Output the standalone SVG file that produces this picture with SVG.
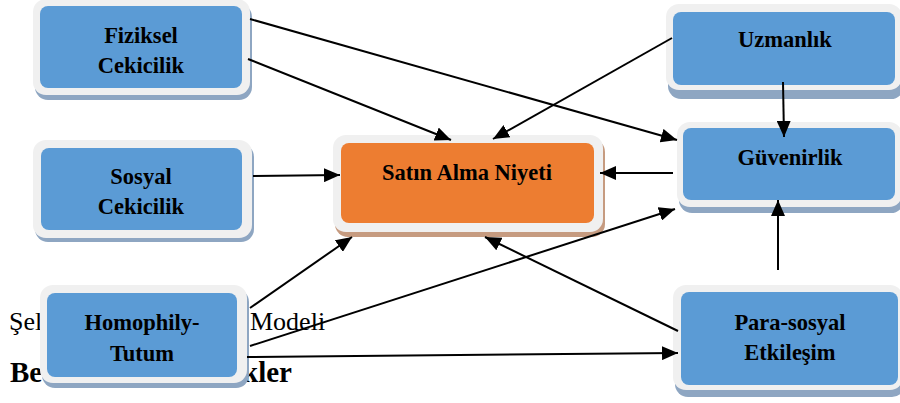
<svg xmlns="http://www.w3.org/2000/svg" width="900" height="403" viewBox="0 0 900 403">
<style>
.bg{font-family:"Liberation Serif","Times New Roman",serif;font-size:26px;fill:#000}
.bgb{font-weight:bold;font-size:29px}
.frame{fill:#F0F0F0}
.shb{fill:#8EA6C2}
.sho{fill:#C69B80}
.blue{fill:#5B9BD5}
.orange{fill:#ED7D31}
.lbl{font-family:"Liberation Serif","Times New Roman",serif;font-size:22.5px;font-weight:bold;fill:#000;text-anchor:middle}
.conn line{stroke:#000;stroke-width:2;fill:none;marker-end:url(#ah)}
</style>
<defs>
<marker id="ah" markerUnits="userSpaceOnUse" markerWidth="17" markerHeight="14" refX="16" refY="7" orient="auto">
<path d="M0,0 L16,7 L0,14 z" fill="#000"/>
</marker>
</defs>
<rect width="900" height="403" fill="#fff"/>
<g id="background-text">
<text class="bg" x="9" y="330">Şel</text>
<text class="bg" x="250" y="330">Modeli</text>
<text class="bg bgb" x="10" y="382">Be</text>
<text class="bg bgb" x="292" y="382" text-anchor="end">kler</text>
</g>
<g id="fiziksel">
<rect class="shb" x="35" y="4" width="217" height="96" rx="13"/>
<rect class="frame" x="33" y="-1" width="217" height="96" rx="13"/>
<rect class="blue" x="40" y="6" width="202" height="82" rx="8"/>
<text class="lbl" x="141" y="43">Fiziksel</text>
<text class="lbl" x="141" y="73">Cekicilik</text>
</g>
<g id="sosyal">
<rect class="shb" x="35" y="144" width="219" height="98" rx="13"/>
<rect class="frame" x="33" y="140" width="219" height="98" rx="13"/>
<rect class="blue" x="41" y="148" width="201" height="82" rx="8"/>
<text class="lbl" x="141" y="184">Sosyal</text>
<text class="lbl" x="141" y="214">Cekicilik</text>
</g>
<g id="homophily">
<rect class="shb" x="42" y="289" width="207" height="99" rx="13"/>
<rect class="frame" x="40" y="285" width="207" height="98" rx="13"/>
<rect class="blue" x="47" y="293" width="190" height="84" rx="8"/>
<text class="lbl" x="142" y="330">Homophily-</text>
<text class="lbl" x="142" y="361">Tutum</text>
</g>
<g id="satin-alma-niyeti">
<rect class="sho" x="335" y="139" width="270" height="98" rx="13"/>
<rect class="frame" x="333" y="135" width="270" height="97" rx="13"/>
<rect class="orange" x="341" y="143" width="253" height="80" rx="8"/>
<text class="lbl" x="467" y="180">Satın Alma Niyeti</text>
</g>
<g id="uzmanlik">
<rect class="shb" x="668" y="9" width="236" height="90" rx="13"/>
<rect class="frame" x="666" y="4" width="236" height="86" rx="13"/>
<rect class="blue" x="673" y="12" width="222" height="73" rx="8"/>
<text class="lbl" x="785" y="47">Uzmanlık</text>
</g>
<g id="guvenirlik">
<rect class="shb" x="679" y="127" width="225" height="86" rx="13"/>
<rect class="frame" x="677" y="122" width="225" height="85" rx="13"/>
<rect class="blue" x="683" y="128" width="212" height="72" rx="8"/>
<text class="lbl" x="790" y="165">Güvenirlik</text>
</g>
<g id="para-sosyal">
<rect class="shb" x="675" y="290" width="230" height="107" rx="13"/>
<rect class="frame" x="673" y="285" width="230" height="105" rx="13"/>
<rect class="blue" x="681" y="292" width="217" height="93" rx="8"/>
<text class="lbl" x="790" y="330">Para-sosyal</text>
<text class="lbl" x="790" y="360">Etkileşim</text>
</g>
<g id="connectors" class="conn">
<line x1="250" y1="19" x2="677" y2="140"/>
<line x1="248" y1="59" x2="451" y2="140"/>
<line x1="672" y1="38" x2="493" y2="139"/>
<line x1="253" y1="176" x2="340" y2="175"/>
<line x1="673" y1="173" x2="600" y2="173"/>
<line x1="783" y1="82" x2="784" y2="137"/>
<line x1="778" y1="270" x2="778" y2="200"/>
<line x1="250" y1="308" x2="352" y2="237"/>
<line x1="250" y1="346" x2="675" y2="209"/>
<line x1="678" y1="331" x2="485" y2="237"/>
<line x1="247" y1="357" x2="678" y2="353"/>
</g>
</svg>
